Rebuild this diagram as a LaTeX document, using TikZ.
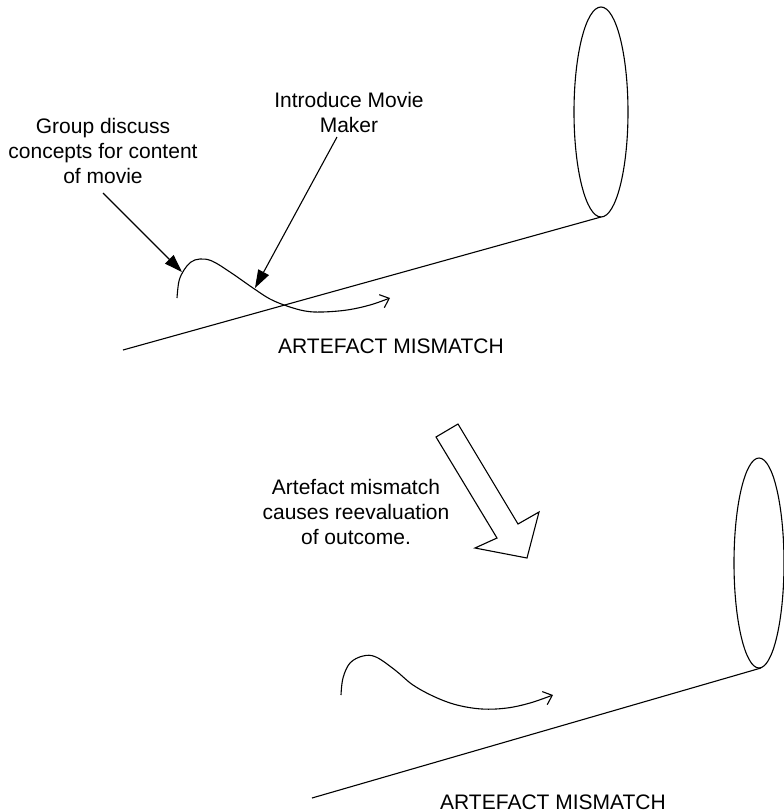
\documentclass[tikz,border=0pt]{standalone}
\usepackage{fontspec}
\setmainfont{Liberation Sans}
\usetikzlibrary{arrows.meta}
\tikzset{
  stroke/.style={line width=1.1pt, black},
  lbl/.style={align=center, font=\fontsize{21}{25}\selectfont, inner sep=0pt},
  callout/.style={stroke, -{Triangle[length=18pt,width=12pt]}},
  flow/.style={stroke, -{Straight Barb[length=8pt,width=14pt]}},
}
\begin{document}
\begin{tikzpicture}[x=1pt,y=-1pt]
\useasboundingbox (0,0) rectangle (784,812);

% ---------- upper stage ----------
\draw[stroke] (601,112) ellipse [x radius=27, y radius=105];
\coordinate (rim1) at (601,217);
\coordinate (base1) at (123,350);
\draw[stroke] (base1) -- (rim1);

\draw[flow] plot[smooth, tension=0.6] coordinates {
  (177,298) (179,281) (184,270) (191,262) (200,259) (212,261) (230,272)
  (253,288) (270,299) (287,306) (305,311) (322,312) (347,310) (370,305) (390,298)};

\node[lbl] (group) at (103,151) {Group discuss\\concepts for content\\of movie};
\node[lbl] (intro) at (349,112) {Introduce Movie\\Maker};
\coordinate (start1) at (103,193);
\coordinate (tip1) at (182,272);
\coordinate (start2) at (337,137);
\coordinate (tip2) at (255,288);
\draw[callout] (start1) -- (tip1);
\draw[callout] (start2) -- (tip2);

\node[lbl, anchor=base west] (mis1) at (278,353) {ARTEFACT MISMATCH};

% ---------- transition arrow ----------
\draw[stroke, line join=miter] (436,437) -- (458,424) -- (518,524) -- (539,512)
  -- (527,558) -- (475,548) -- (497,538) -- cycle;
\node[lbl] (reeval) at (356,512) {Artefact mismatch\\causes reevaluation\\of outcome.};

% ---------- lower stage ----------
\draw[stroke] (759,563) ellipse [x radius=25, y radius=105];
\coordinate (rim2) at (761,668);
\coordinate (base2) at (312,798);
\draw[stroke] (base2) -- (rim2);

\draw[flow] plot[smooth, tension=0.6] coordinates {
  (341,695) (343,678) (350,663) (363,656) (376,657) (395,670) (413,685)
  (435,697) (457,705) (482,709) (507,708) (530,703) (553,695)};

\node[lbl, anchor=base west] (mis2) at (440,809) {ARTEFACT MISMATCH};
\end{tikzpicture}
\end{document}
